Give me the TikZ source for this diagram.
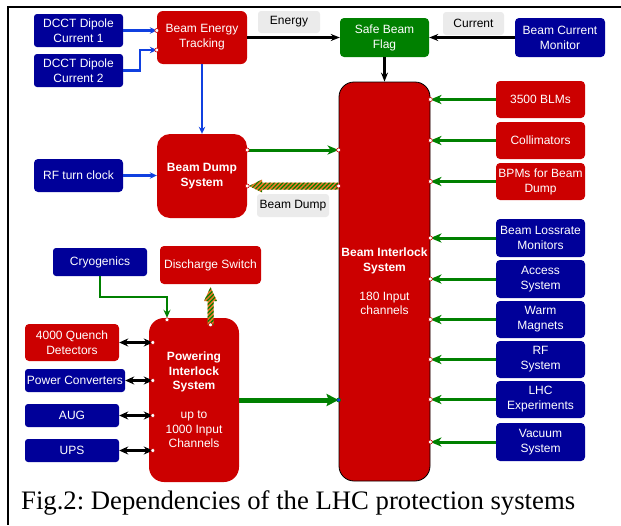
\documentclass[tikz,border=0pt]{standalone}
\usepackage{fontspec}
\setmainfont{Liberation Sans}
\newfontfamily\capfont{Liberation Serif}
\usetikzlibrary{arrows.meta,calc,patterns.meta}
\definecolor{lhcred}{RGB}{204,0,0}
\definecolor{lhcblue}{RGB}{0,0,153}
\definecolor{lhcgreen}{RGB}{0,128,0}
\definecolor{feedblue}{RGB}{16,64,224}
\definecolor{tagGrey}{RGB}{235,235,235}
\definecolor{hatchorange}{RGB}{235,120,40}
\frenchspacing
\begin{document}
\begin{tikzpicture}[x=1pt,y=-1pt,
  box/.style={rounded corners=3pt,text=white,align=center,inner sep=0pt,font=\fontsize{12}{15}\selectfont},
  redbox/.style={box,fill=lhcred},
  bluebox/.style={box,fill=lhcblue},
  bigbox/.style={redbox,rounded corners=13pt,font=\fontsize{12}{14.5}\selectfont},
  tag/.style={rounded corners=3pt,fill=tagGrey,inner sep=0pt,font=\fontsize{12}{15}\selectfont},
  port/.style={circle,draw=lhcred,fill=white,line width=0.6pt,inner sep=0pt,minimum size=4pt},
  blk/.style={-{Stealth[length=9pt,width=7pt]},line width=2.2pt},
  both/.style={{Stealth[length=9pt,width=8pt]}-{Stealth[length=9pt,width=8pt]},line width=2.5pt},
  sig/.style={lhcgreen,-{Stealth[length=11pt,width=9pt,inset=3pt]},line width=3pt},
  feed/.style={feedblue,-{Stealth[length=7pt,width=6.5pt]},line width=2.5pt},
  hatch/.style={fill=hatchorange,postaction={pattern={Lines[angle=45,distance=3pt,line width=1.2pt]},pattern color=lhcgreen}}]
\useasboundingbox (0,0) rectangle (621,525);
\draw[line width=2.3pt] (621,7) -- (8,7) -- (8,525);

\node[bluebox,minimum width=89,minimum height=33] (dcct1) at (78.5,30.5) {DCCT Dipole\\Current 1};
\node[bluebox,minimum width=89,minimum height=33] (dcct2) at (78.5,70.5) {DCCT Dipole\\Current 2};
\node[redbox,rounded corners=6pt,minimum width=90,minimum height=53] (bet) at (202,37.5) {Beam Energy\\Tracking};
\node[tag,minimum width=62,minimum height=22] (energy) at (289,22) {Energy};
\node[box,fill=lhcgreen,rounded corners=4pt,minimum width=89,minimum height=39] (sbf) at (384.5,37.5) {Safe Beam\\Flag};
\node[tag,minimum width=61,minimum height=23] (current) at (473.5,23.5) {Current};
\node[bluebox,rounded corners=4pt,minimum width=90,minimum height=39] (bcm) at (560,37.5) {Beam Current\\Monitor};

\node[bigbox,draw=black,line width=0.8pt,rounded corners=15pt,minimum width=91,minimum height=399] (bis) at (384.5,281.5)
  {\textbf{Beam Interlock}\\\textbf{System}\\[14.5pt]180 Input\\channels};

\node[redbox,rounded corners=4pt,minimum width=89,minimum height=37] (blm) at (540.5,99.5) {3500 BLMs};
\node[redbox,rounded corners=4pt,minimum width=89,minimum height=37] (coll) at (540.5,140.5) {Collimators};
\node[redbox,rounded corners=4pt,minimum width=89,minimum height=37] (bpm) at (540.5,181.5) {BPMs for Beam\\Dump};
\node[bluebox,rounded corners=4pt,minimum width=89,minimum height=38] (blrm) at (540.5,238) {Beam Lossrate\\Monitors};
\node[bluebox,rounded corners=4pt,minimum width=89,minimum height=38] (access) at (540.5,279) {Access\\System};
\node[bluebox,rounded corners=4pt,minimum width=89,minimum height=37] (warm) at (540.5,319.5) {Warm\\Magnets};
\node[bluebox,rounded corners=4pt,minimum width=89,minimum height=37] (rfsys) at (540.5,359.5) {RF\\System};
\node[bluebox,rounded corners=4pt,minimum width=89,minimum height=37] (lhc) at (540.5,399.5) {LHC\\Experiments};
\node[bluebox,rounded corners=4pt,minimum width=89,minimum height=38] (vac) at (540.5,442) {Vacuum\\System};

\node[bigbox,minimum width=90,minimum height=84] (bds) at (202,176) {\textbf{Beam Dump}\\\textbf{System}};
\node[bluebox,rounded corners=4pt,minimum width=89,minimum height=33] (rfclock) at (78.5,175.5) {RF turn clock};
\node[tag,minimum width=72,minimum height=23] (dumptag) at (293,205.5) {Beam Dump};

\node[bluebox,minimum width=94,minimum height=28] (cryo) at (100,262) {Cryogenics};
\node[redbox,rounded corners=4pt,minimum width=101,minimum height=38] (discharge) at (210.5,265) {Discharge Switch};
\node[bigbox,rounded corners=15pt,minimum width=90,minimum height=164] (pis) at (194,400)
  {\textbf{Powering}\\\textbf{Interlock}\\\textbf{System}\\[14.5pt]up to\\1000 Input\\Channels};
\node[redbox,rounded corners=4pt,minimum width=94,minimum height=37] (quench) at (72,342.5) {4000 Quench\\Detectors};
\node[bluebox,minimum width=100,minimum height=23] (pc) at (75,380.5) {Power Converters};
\node[bluebox,minimum width=94,minimum height=23] (aug) at (72,415.5) {AUG};
\node[bluebox,minimum width=94,minimum height=23] (ups) at (72,450.5) {UPS};

\node[anchor=base west,inner sep=0pt,font=\capfont\fontsize{26.7}{28}\selectfont] (caption) at (21,509)
  {Fig.2: Dependencies of the LHC protection systems};

\draw[feed] (dcct1.east) -- (dcct1.east -| bet.west) node[port]{};
\draw[feed] (dcct2.east) -- ++(17,0) |- ($(bet.west)+(0,12.5)$) node[port]{};
\draw[feed] (bet.south) -- (bds.north);
\draw[feed] (rfclock.east) -- (rfclock.east -| bds.west);
\draw[blk] (bet.east) -- (sbf.west);
\draw[blk] (bcm.west) -- (sbf.east);
\draw[blk,line width=3pt] (sbf.south) -- (bis.north);

\foreach \n in {blm,coll,bpm,blrm,access,warm,rfsys,lhc,vac}
  \draw[sig] (\n.west) -- (\n.west -| bis.east) node[port]{};

\draw[sig] ($(bds.east)+(0,-26)$) node[port]{} -- ($(bds.east -| bis.west)+(0,-26)$) node[port]{};
\coordinate (dumpS) at ($(bds.east)+(2,10)$);
\coordinate (dumpT) at ($(bds.east -| bis.west)+(0,10)$);
\path[hatch] (dumpS) -- ($(dumpS)+(13,-6.5)$) -- ($(dumpS)+(13,-3.5)$) -- ($(dumpT)+(0,-3.5)$)
  -- ($(dumpT)+(0,3.5)$) -- ($(dumpS)+(13,3.5)$) -- ($(dumpS)+(13,6.5)$) -- cycle;
\node[port] at ($(bds.east)+(0,10)$) {};
\node[port] at (dumpT) {};

\draw[lhcgreen,line width=2.5pt,-{Stealth[length=8pt,width=7pt]}] (cryo.south) -- ++(0,21) -| ($(pis.north)+(-27,0)$);
\node[port] at ($(pis.north)+(-27,2)$) {};
\coordinate (dsS) at ($(discharge.south)+(0,3)$);
\coordinate (dsT) at ($(discharge.south |- pis.north)+(0,7)$);
\path[hatch] (dsS) -- ($(dsS)+(6.5,14)$) -- ($(dsS)+(3,14)$) -- ($(dsT)+(3,0)$)
  -- ($(dsT)+(-3,0)$) -- ($(dsS)+(-3,14)$) -- ($(dsS)+(-6.5,14)$) -- cycle;
\node[port] at (dsT) {};

\foreach \n in {quench,pc,aug,ups}
  \draw[both] (\n.east) -- ($(\n.east -| pis.west)+(4,0)$) node[port]{};

\draw[lhcgreen,line width=5pt,-{Stealth[length=12pt,width=12pt,inset=2pt]}] (pis.east) -- (pis.east -| bis.west)
  node[port,draw=lhcgreen,fill=feedblue]{};
\end{tikzpicture}
\end{document}
